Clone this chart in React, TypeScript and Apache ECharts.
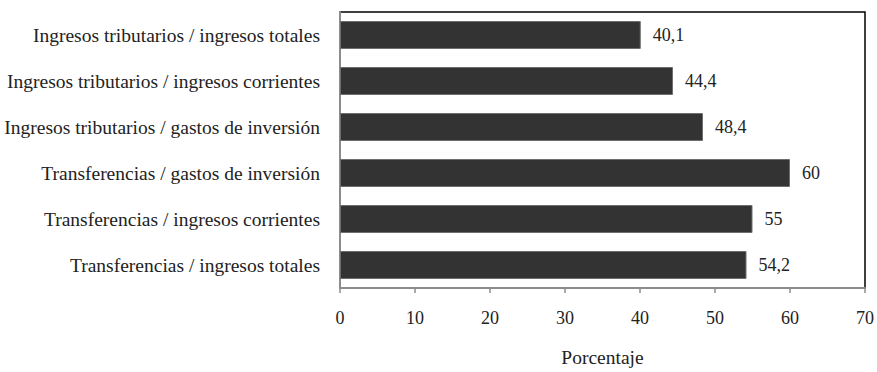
import React, { useEffect, useRef } from "react";
import * as echarts from "echarts";

const categories = [
  "Ingresos tributarios / ingresos totales",
  "Ingresos tributarios / ingresos corrientes",
  "Ingresos tributarios / gastos de inversión",
  "Transferencias / gastos de inversión",
  "Transferencias / ingresos corrientes",
  "Transferencias / ingresos totales",
];
const values = [40.1, 44.4, 48.4, 60, 55, 54.2];
const xTicks = [0, 10, 20, 30, 40, 50, 60, 70];
const axisName = "Porcentaje";

const FONT = "'Liberation Serif', 'DejaVu Serif', serif";

export default function App() {
  const ref = useRef<HTMLDivElement>(null);
  useEffect(() => {
    document.body.style.margin = "0";
    if (!ref.current) return;
    const chart = echarts.init(ref.current, undefined, { renderer: "svg" });
    chart.setOption({
      animation: false,
      textStyle: { fontFamily: FONT },
      grid: {
        left: 340,
        right: 10,
        top: 12,
        bottom: 75,
        show: true,
        borderColor: "#000",
        borderWidth: 1.5,
        backgroundColor: "transparent",
      },
      xAxis: {
        type: "value",
        min: xTicks[0],
        max: xTicks[xTicks.length - 1],
        interval: 10,
        name: axisName,
        nameLocation: "middle",
        nameGap: 59,
        nameTextStyle: { fontFamily: FONT, fontSize: 19.5, color: "#222" },
        axisLine: { show: true, lineStyle: { color: "#8c8c8c", width: 2 } },
        axisTick: { show: true, length: 5, lineStyle: { color: "#8c8c8c", width: 1.5 } },
        axisLabel: { fontFamily: FONT, fontSize: 18, color: "#222", margin: 21 },
        splitLine: { show: false },
      },
      yAxis: {
        type: "category",
        data: categories,
        inverse: true,
        axisLine: { show: true, lineStyle: { color: "#8c8c8c", width: 2 } },
        axisTick: { show: false },
        axisLabel: { fontFamily: FONT, fontSize: 19.5, color: "#222", margin: 20 },
      },
      series: [
        {
          type: "bar",
          data: values,
          barWidth: 28,
          itemStyle: { color: "#333333", borderColor: "#6e6e6e", borderWidth: 1 },
          label: {
            show: true,
            position: "right",
            distance: 12,
            fontFamily: FONT,
            fontSize: 18,
            color: "#222",
            formatter: (p: any) => String(p.value).replace(".", ","),
          },
        },
      ],
    });
    return () => chart.dispose();
  }, []);
  return <div ref={ref} style={{ width: 877, height: 372 }} />;
}
